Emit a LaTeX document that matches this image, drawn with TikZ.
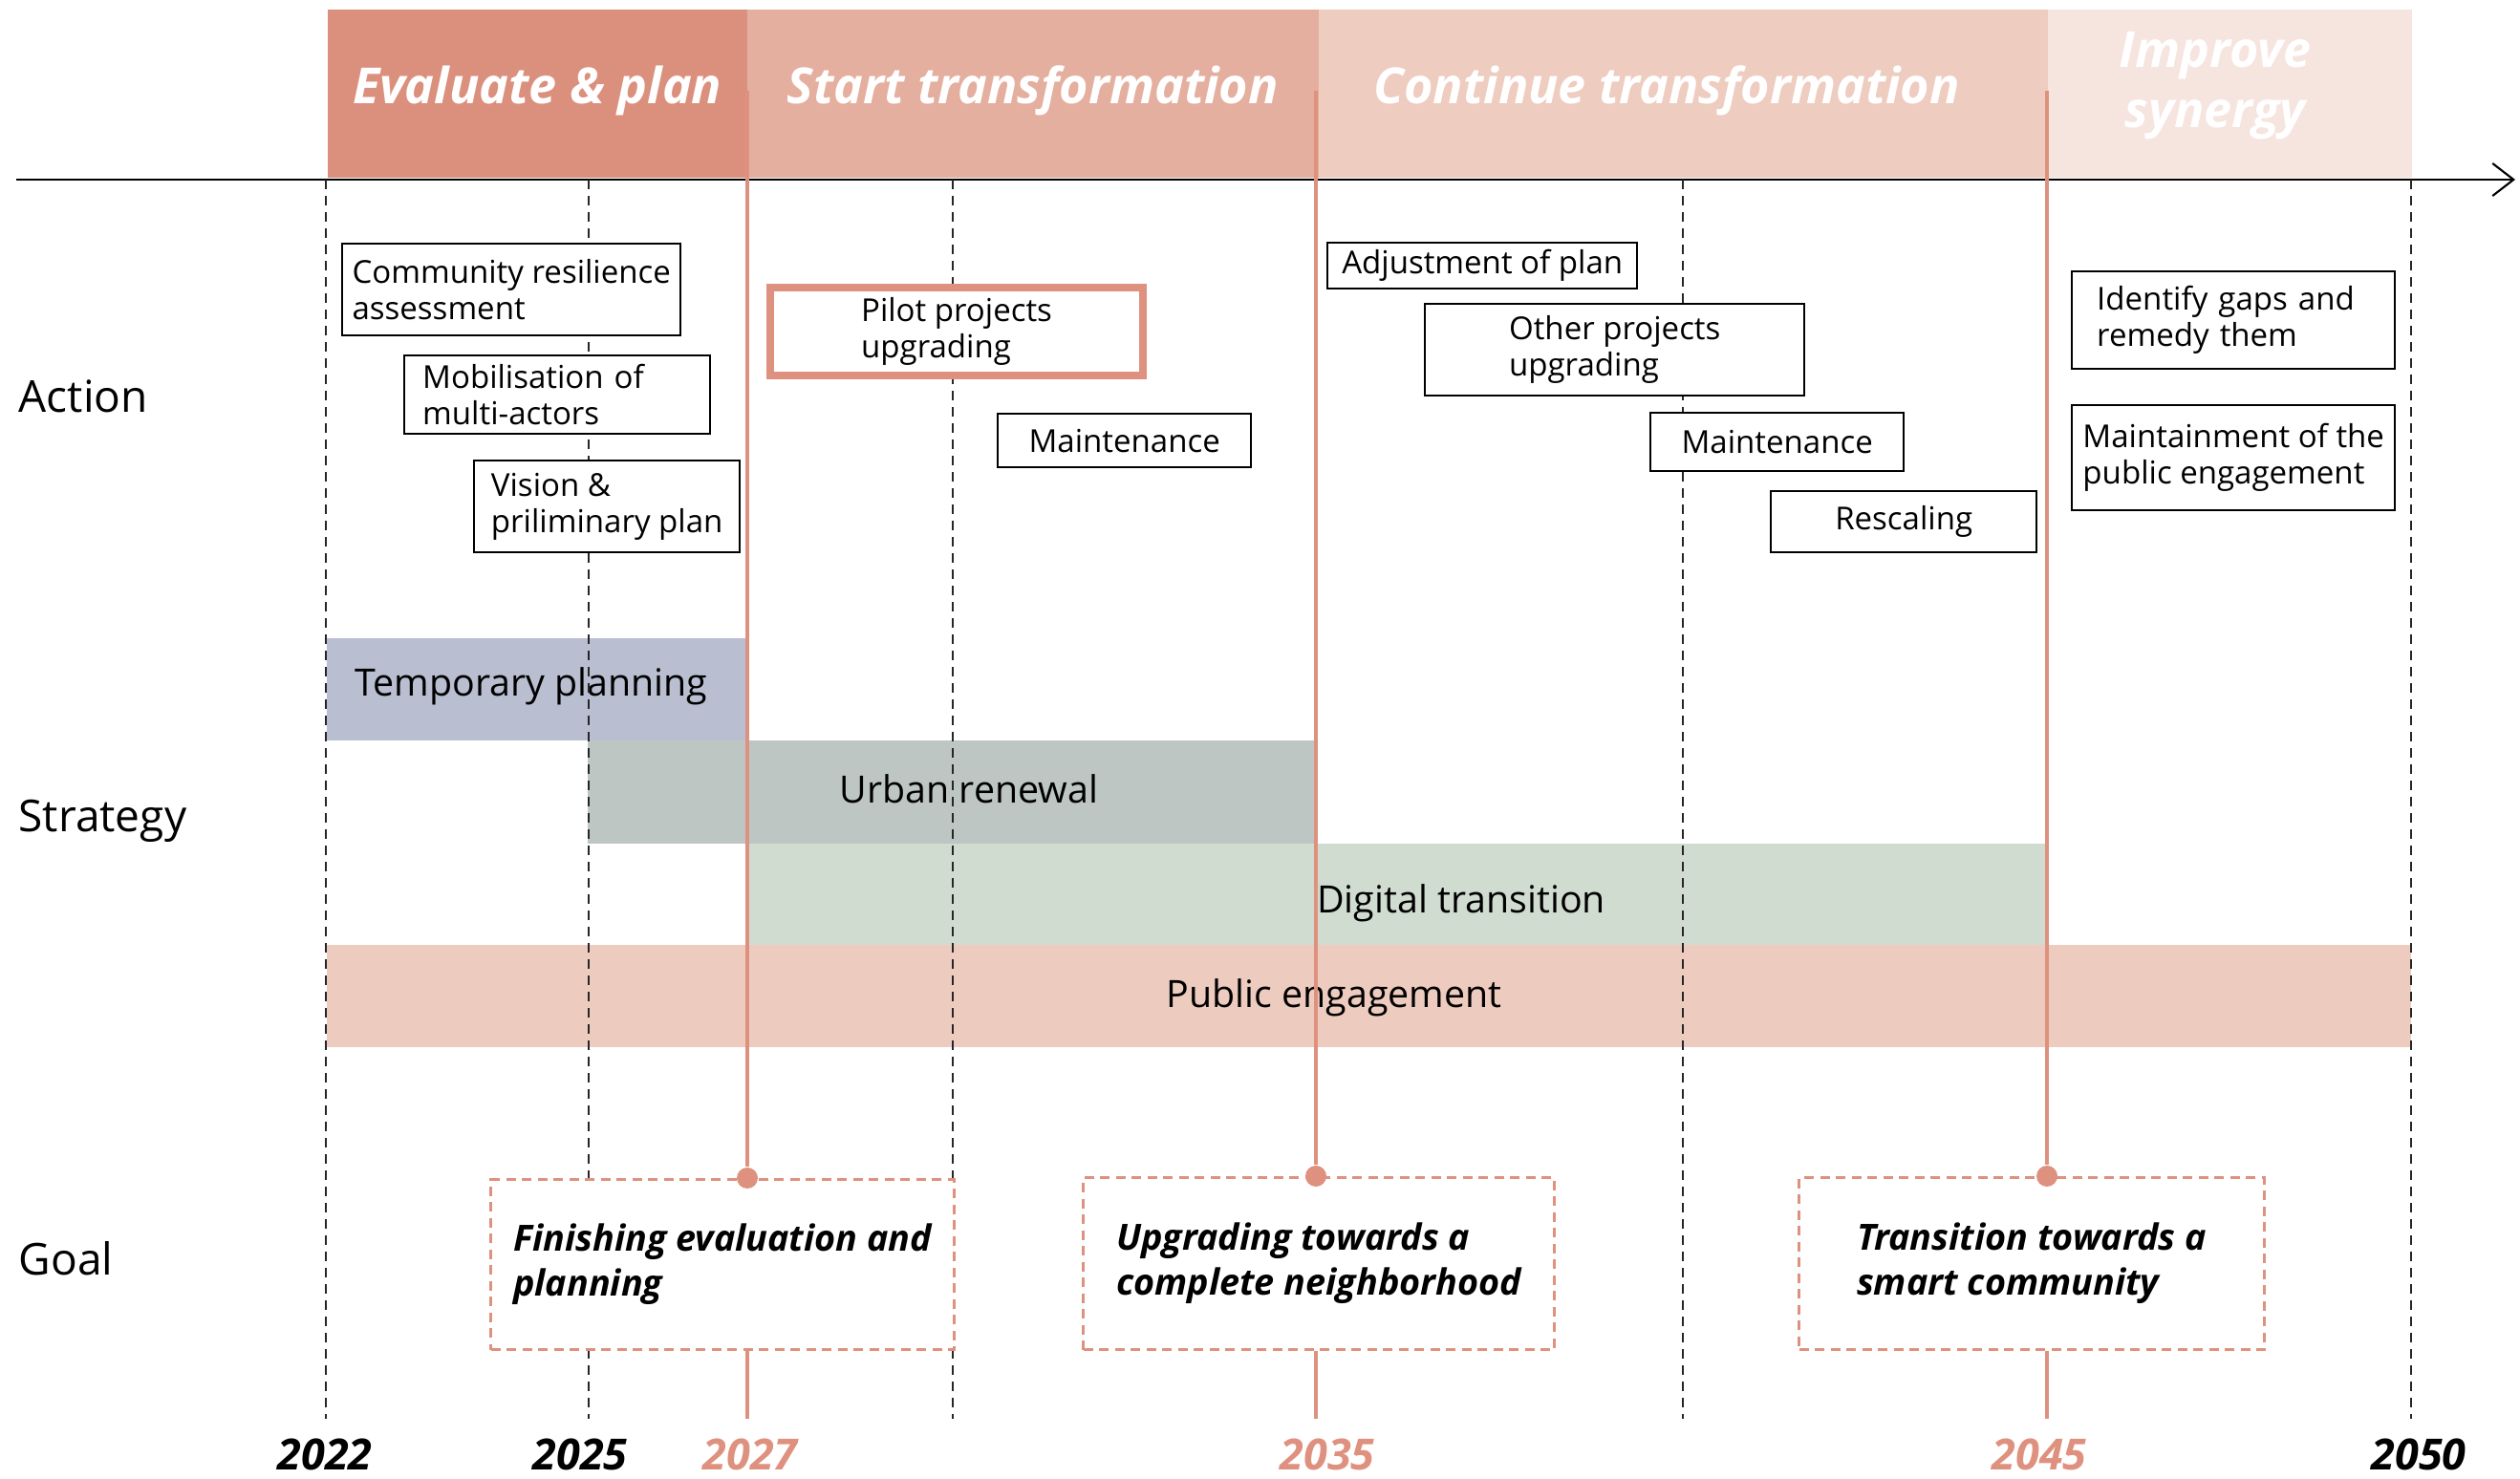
\documentclass[tikz,border=0pt]{standalone}
\usepackage{fontspec}
\setmainfont{Open Sans}
\usetikzlibrary{arrows.meta,positioning}
\definecolor{phaseA}{HTML}{DB907E}
\definecolor{phaseB}{HTML}{E4AF9F}
\definecolor{phaseC}{HTML}{EECCC0}
\definecolor{phaseD}{HTML}{F6E4DF}
\definecolor{salmon}{HTML}{DF917F}
\definecolor{tempbar}{HTML}{B9BED1}
\definecolor{urbanbar}{HTML}{BDC6C2}
\definecolor{digibar}{HTML}{D1DCD1}
\definecolor{pubbar}{HTML}{EECBBF}

\begin{document}
\begin{tikzpicture}[x=1cm,y=-1cm,
    phase/.style={fill=#1, draw=none, anchor=north west, inner sep=0pt,
        minimum height=1.76cm},
    phasetext/.style={text=white, align=center, yshift=0.03cm,
        font=\fontsize{14.8}{15.5}\selectfont\bfseries\itshape},
    actbox/.style={draw=black, line width=0.7pt, fill=white, anchor=north west,
        inner sep=0pt, align=left, font=\fontsize{9.4}{10.8}\selectfont},
    goalbox/.style={draw=salmon, line width=0.9pt, dash pattern=on 0.1cm off 0.065cm,
        fill=white, anchor=north west, inner sep=0pt, align=left,
        font=\fontsize{10.75}{13.4}\selectfont\bfseries\itshape},
    bartext/.style={font=\fontsize{11.2}{12}\selectfont},
    rowlabel/.style={anchor=west, inner sep=0pt, font=\fontsize{13.1}{14}\selectfont},
    year/.style={font=\fontsize{12.8}{13}\selectfont\bfseries\itshape},
    yearline/.style={black!85, line width=0.6pt, dash pattern=on 0.1cm off 0.07cm},
    milestone/.style={salmon, line width=0.9pt},
    dot/.style={circle, fill=salmon, inner sep=0pt, minimum size=0.22cm}
]
    \useasboundingbox (0,0) rectangle (26.37,15.48);

    % Phases
    \node[phase=phaseA, minimum width=4.39cm] (ph1) at (3.42,0.09) {};
    \node[phase=phaseB, minimum width=5.98cm] (ph2) at (7.81,0.09) {};
    \node[phase=phaseC, minimum width=7.63cm] (ph3) at (13.79,0.09) {};
    \node[phase=phaseD, minimum width=3.81cm] (ph4) at (21.42,0.09) {};
    \node[phasetext] (t1) at (ph1) {Evaluate \& plan};
    \node[phasetext] (t2) at (ph2) {Start transformation};
    \node[phasetext, xshift=-0.17cm] (t3) at (ph3) {Continue transformation};
    \node[phasetext, xshift=-0.15cm, yshift=0.05cm,
        font=\fontsize{14.8}{17.7}\selectfont\bfseries\itshape] (t4) at (ph4) {Improve\\synergy};

    % Time axis
    \coordinate (axL) at (0.17,1.88);
    \coordinate (axR) at (26.32,1.88);
    \draw[line width=0.6pt, -{Straight Barb[length=2.2mm,width=3.4mm]}] (axL) -- (axR);

    % Strategy bars
    \fill[tempbar] (3.42,6.68) rectangle (7.81,7.75);
    \fill[urbanbar] (6.15,7.75) rectangle (13.77,8.83);
    \fill[digibar] (7.81,8.83) rectangle (21.42,9.89);
    \fill[pubbar] (3.42,9.89) rectangle (25.23,10.96);
    \node[bartext] (temp) at (5.56,7.18) {Temporary planning};
    \node[bartext] (urban) at (10.14,8.26) {Urban renewal};
    \node[bartext] (digi) at (15.29,9.45) {Digital transition};
    \node[bartext] (pub) at (13.96,10.44) {Public engagement};

    % Dashed year lines
    \foreach \x in {3.41,6.16,9.97,17.61,25.23} {
        \draw[yearline] (\x,1.88) -- (\x,14.85);
    }

    % Milestones
    \coordinate (top27) at (7.82,0.95);
    \coordinate (top35) at (13.77,0.95);
    \coordinate (top45) at (21.42,0.95);
    \coordinate (bot27) at (7.82,14.85);
    \coordinate (bot35) at (13.77,14.85);
    \coordinate (bot45) at (21.42,14.85);

    % Goals
    \node[goalbox, minimum width=4.85cm, minimum height=1.78cm] (g1) at (5.12,12.33)
        {Finishing evaluation and\\planning};
    \node[goalbox, minimum width=4.93cm, minimum height=1.80cm] (g2) at (11.32,12.31)
        {Upgrading towards a\\complete neighborhood};
    \node[goalbox, minimum width=4.87cm, minimum height=1.80cm] (g3) at (18.81,12.31)
        {Transition towards a\\smart community};

    \node[dot] (d27) at (7.82,12.33) {};
    \node[dot] (d35) at (13.77,12.31) {};
    \node[dot] (d45) at (21.42,12.31) {};
    \draw[milestone] (top27) -- (d27);
    \draw[milestone] (top35) -- (d35);
    \draw[milestone] (top45) -- (d45);
    \draw[milestone] (g1.south -| d27) -- (bot27);
    \draw[milestone] (g2.south -| d35) -- (bot35);
    \draw[milestone] (g3.south -| d45) -- (bot45);

    % Actions
    \node[actbox, minimum width=3.54cm, minimum height=0.96cm] (comm) at (3.57,2.54)
        {Community resilience\\assessment};
    \node[actbox, text width=2.82cm, inner xsep=0.19cm, minimum height=0.82cm] (mobil) at (4.22,3.71)
        {Mobilisation of\\multi-actors};
    \node[actbox, minimum width=2.78cm, minimum height=0.96cm] (vision) at (4.95,4.81)
        {Vision \&\\priliminary plan};
    \node[actbox, draw=salmon, line width=2.3pt, minimum width=3.90cm, minimum height=0.92cm] (pilot) at (8.02,2.97)
        {Pilot projects\\upgrading};
    \node[actbox, minimum width=2.65cm, minimum height=0.56cm] (maintA) at (10.43,4.32) {Maintenance};
    \node[actbox, minimum width=3.24cm, minimum height=0.48cm] (adjust) at (13.88,2.53) {Adjustment of plan};
    \node[actbox, minimum width=3.97cm, minimum height=0.96cm] (other) at (14.90,3.17)
        {Other projects\\upgrading};
    \node[actbox, minimum width=2.65cm, minimum height=0.61cm] (maintB) at (17.26,4.31) {Maintenance};
    \node[actbox, minimum width=2.78cm, minimum height=0.64cm] (rescal) at (18.52,5.13) {Rescaling};
    \node[actbox, text width=2.86cm, inner xsep=0.26cm, minimum height=1.02cm] (gaps) at (21.67,2.83)
        {Identify gaps and\\remedy them};
    \node[actbox, minimum width=3.38cm, minimum height=1.10cm] (keep) at (21.67,4.23)
        {Maintainment of the\\public engagement};

    % Rows
    \node[rowlabel] (action) at (0.19,4.15) {Action};
    \node[rowlabel] (strategy) at (0.19,8.59) {Strategy};
    \node[rowlabel] (goal) at (0.19,13.17) {Goal};

    % Years
    \node[year] (y22) at (3.40,15.22) {2022};
    \node[year] (y25) at (6.07,15.22) {2025};
    \node[year, text=salmon] (y27) at (7.85,15.22) {2027};
    \node[year, text=salmon] (y35) at (13.89,15.22) {2035};
    \node[year, text=salmon] (y45) at (21.34,15.22) {2045};
    \node[year] (y50) at (25.31,15.22) {2050};
\end{tikzpicture}
\end{document}
